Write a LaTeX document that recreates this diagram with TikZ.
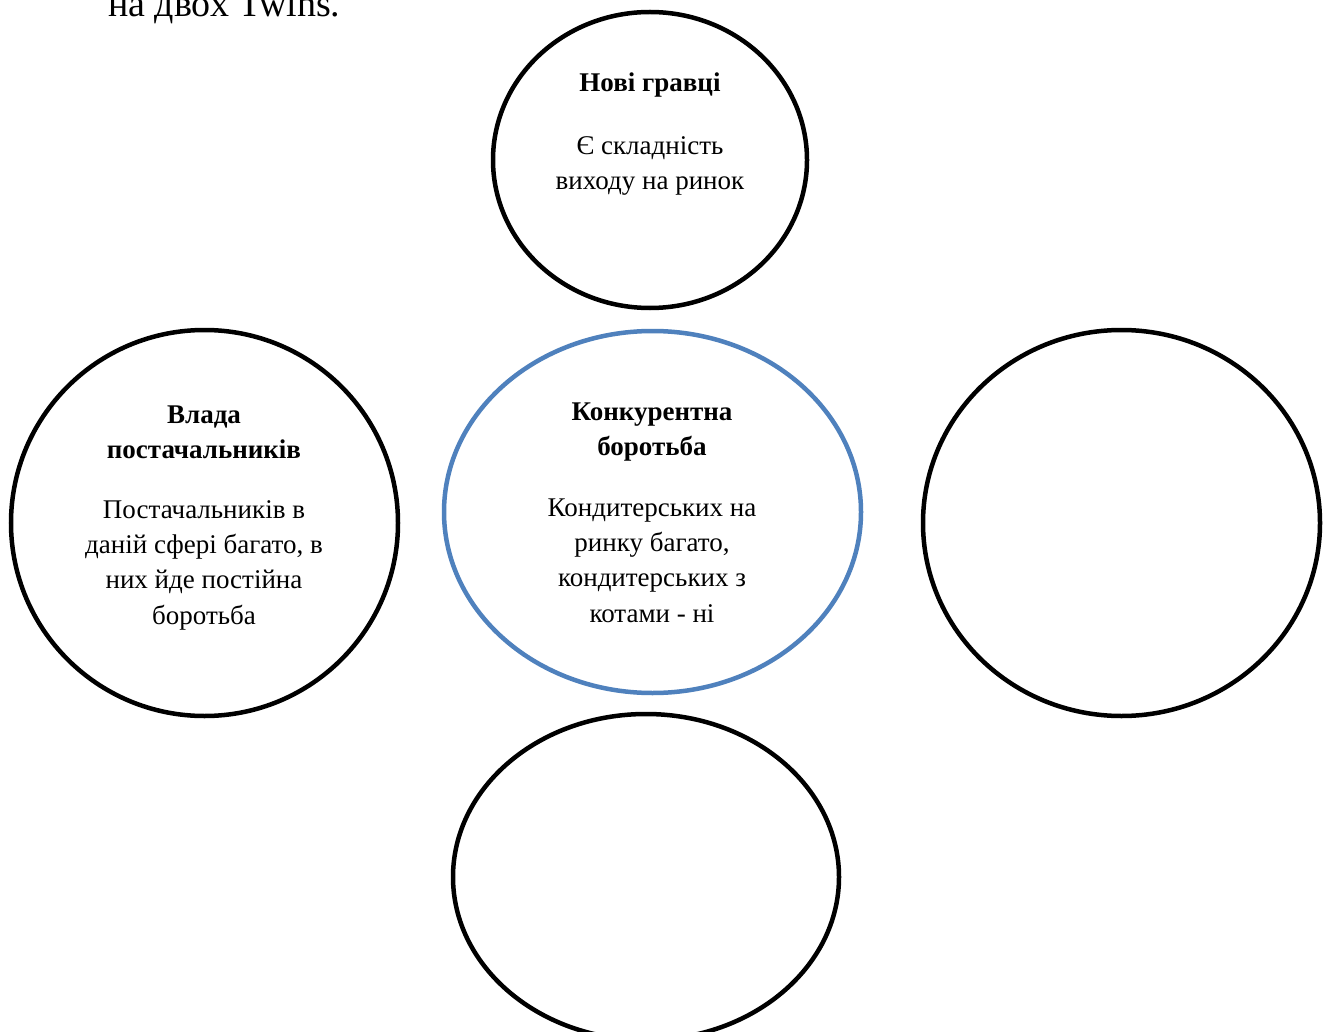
\documentclass[tikz,border=0pt]{standalone}
\usepackage{fontspec}
\setmainfont{Liberation Serif}
\usetikzlibrary{shapes.geometric}
\definecolor{ovalblue}{RGB}{79,129,189}
\begin{document}
\begin{tikzpicture}[x=1pt,y=-1pt,
  oval/.style={draw=black,line width=4.5pt,ellipse,inner sep=0pt,outer sep=0pt},
  head/.style={font=\fontsize{27}{35}\selectfont\bfseries,align=center,anchor=base,inner sep=0pt},
  body/.style={font=\fontsize{27}{35.3}\selectfont,align=center,anchor=base,inner sep=0pt}]
\useasboundingbox[fill=white] (0,0) rectangle (1327,1032);
\begin{scope}
\clip (0,0) rectangle (1327,1032);
\node[inner sep=0pt,anchor=base west,font=\fontsize{38}{44}\selectfont] (top) at (108,17) {на двох Twins.};
\node[oval,minimum width=314,minimum height=296] (newp) at (650,160) {};
\node[oval,minimum width=387,minimum height=386] (supp) at (204.5,523) {};
\node[oval,draw=ovalblue,minimum width=417,minimum height=362] (comp) at (652.5,512) {};
\node[oval,minimum width=397,minimum height=386] (right) at (1121.5,523) {};
\node[oval,minimum width=386,minimum height=326] (bottom) at (646,877) {};
\end{scope}
\node[head] (newph) at (650,92) {Нові гравці};
\node[body] (newpb) at (650,190) {Є складність\\виходу на ринок};
\node[head] (supph) at (204,458) {Влада\\постачальників};
\node[body] (suppb) at (204,624) {Постачальників в\\даній сфері багато, в\\них йде постійна\\боротьба};
\node[head] (comph) at (652,455) {Конкурентна\\боротьба};
\node[body] (compb) at (652,622) {Кондитерських на\\ринку багато,\\кондитерських з\\котами - ні};
\end{tikzpicture}
\end{document}
